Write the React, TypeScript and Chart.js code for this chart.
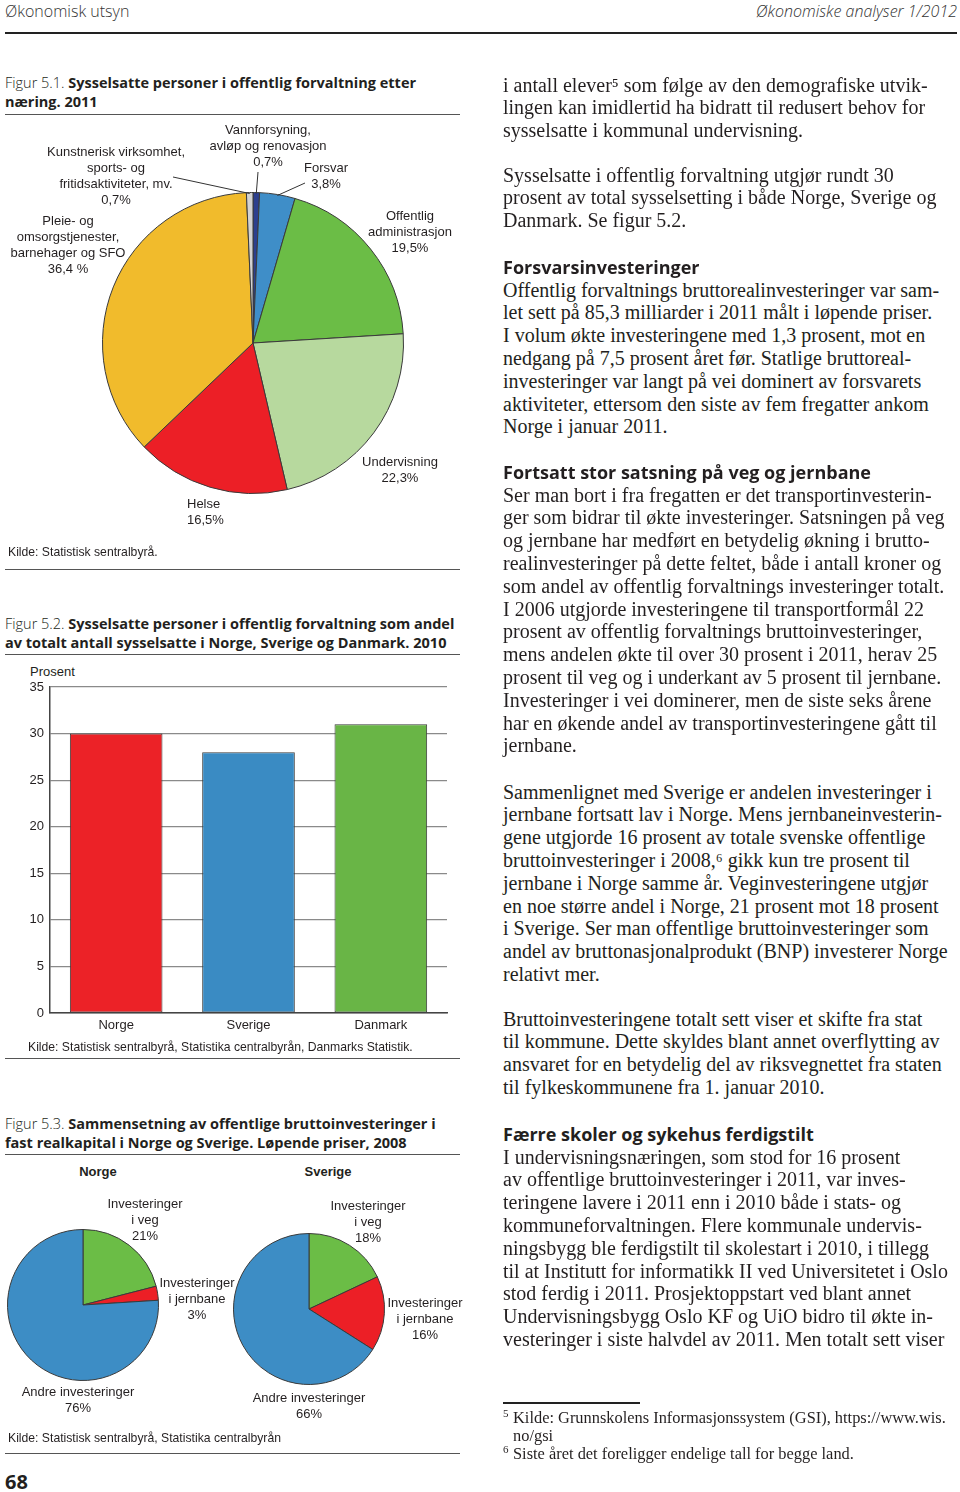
import React, { useEffect, useRef } from "react";
import { Chart, registerables } from "chart.js";

Chart.register(...registerables);

// ---------- DATA ----------
// Figur 5.1
const sectorNames = [
  "Vannforsyning, avløp og renovasjon",
  "Forsvar",
  "Offentlig administrasjon",
  "Undervisning",
  "Helse",
  "Pleie- og omsorgstjenester, barnehager og SFO",
  "Kunstnerisk virksomhet, sports- og fritidsaktiviteter, mv.",
];
const sectorShares = [0.7, 3.8, 19.5, 22.3, 16.5, 36.4, 0.7];
const sectorColors = ["#2c3f8e", "#3f8ec8", "#6bbd46", "#b7d99e", "#ec1f26", "#f1bb2c", "#d2d2d2"];

// Figur 5.2
const countries = ["Norge", "Sverige", "Danmark"];
const publicEmploymentShare = [30.0, 28.0, 31.0];
const countryColors = ["#ec2227", "#3a8bc3", "#69b546"];
const yMin = 0;
const yMax = 35;
const yStep = 5;

// Figur 5.3
const investCategories = ["Investeringer i veg", "Investeringer i jernbane", "Andre investeringer"];
const norwayInvest = [21, 3, 76];
const swedenInvest = [18, 16, 66];
const investColors = ["#6bbd46", "#ec1f26", "#3d8dc5"];

// ---------- FONTS ----------
const SANS = "'Liberation Sans', Arial, Helvetica, sans-serif";
const TITLE = "'Open Sans', 'Noto Sans', sans-serif";
const SERIF = "'Liberation Serif', 'Times New Roman', serif";
const INK = "#231f20";

const pct = (v: number, suffix = "%") => String(v).replace(".", ",") + suffix;

// ---------- TEXT ----------
const para1 = [
  "i antall elever\u2075 som følge av den demografiske utvik-",
  "lingen kan imidlertid ha bidratt til redusert behov for",
  "sysselsatte i kommunal undervisning.",
];
const para2 = [
  "Sysselsatte i offentlig forvaltning utgjør rundt 30",
  "prosent av total sysselsetting i både Norge, Sverige og",
  "Danmark. Se figur 5.2.",
];
const para3 = [
  "Offentlig forvaltnings bruttorealinvesteringer var sam-",
  "let sett på 85,3 milliarder i 2011 målt i løpende priser.",
  "I volum økte investeringene med 1,3 prosent, mot en",
  "nedgang på 7,5 prosent året før. Statlige bruttoreal-",
  "investeringer var langt på vei dominert av forsvarets",
  "aktiviteter, ettersom den siste av fem fregatter ankom",
  "Norge i januar 2011.",
];
const para4 = [
  "Ser man bort i fra fregatten er det transportinvesterin-",
  "ger som bidrar til økte investeringer. Satsningen på veg",
  "og jernbane har medført en betydelig økning i brutto-",
  "realinvesteringer på dette feltet, både i antall kroner og",
  "som andel av offentlig forvaltnings investeringer totalt.",
  "I 2006 utgjorde investeringene til transportformål 22",
  "prosent av offentlig forvaltnings bruttoinvesteringer,",
  "mens andelen økte til over 30 prosent i 2011, herav 25",
  "prosent til veg og i underkant av 5 prosent til jernbane.",
  "Investeringer i vei dominerer, men de siste seks årene",
  "har en økende andel av transportinvesteringene gått til",
  "jernbane.",
];
const para5 = [
  "Sammenlignet med Sverige er andelen investeringer i",
  "jernbane fortsatt lav i Norge. Mens jernbaneinvesterin-",
  "gene utgjorde 16 prosent av totale svenske offentlige",
  "bruttoinvesteringer i 2008,\u2076 gikk kun tre prosent til",
  "jernbane i Norge samme år. Veginvesteringene utgjør",
  "en noe større andel i Norge, 21 prosent mot 18 prosent",
  "i Sverige. Ser man offentlige bruttoinvesteringer som",
  "andel av bruttonasjonalprodukt (BNP) investerer Norge",
  "relativt mer.",
];
const para6 = [
  "Bruttoinvesteringene totalt sett viser et skifte fra stat",
  "til kommune. Dette skyldes blant annet overflytting av",
  "ansvaret for en betydelig del av riksvegnettet fra staten",
  "til fylkeskommunene fra 1. januar 2010.",
];
const para7 = [
  "I undervisningsnæringen, som stod for 16 prosent",
  "av offentlige bruttoinvesteringer i 2011, var inves-",
  "teringene lavere i 2011 enn i 2010 både i stats- og",
  "kommuneforvaltningen. Flere kommunale undervis-",
  "ningsbygg ble ferdigstilt til skolestart i 2010, i tillegg",
  "til at Institutt for informatikk II ved Universitetet i Oslo",
  "stod ferdig i 2011. Prosjektoppstart ved blant annet",
  "Undervisningsbygg Oslo KF og UiO bidro til økte in-",
  "vesteringer i siste halvdel av 2011. Men totalt sett viser",
];

// ---------- HELPERS ----------
type TxtProps = {
  x: number;
  y: number; // centre of first line
  lines: (string | React.ReactNode)[];
  size?: number;
  lh?: number;
  family?: string;
  weight?: number;
  align?: "left" | "center" | "right";
  color?: string;
  italic?: boolean;
};

function Txt({ x, y, lines, size = 13, lh = 16, family = SANS, weight = 400, align = "left", color = INK, italic }: TxtProps) {
  const style: React.CSSProperties = {
    position: "absolute",
    top: y - lh / 2,
    fontFamily: family,
    fontSize: size,
    lineHeight: lh + "px",
    fontWeight: weight,
    fontStyle: italic ? "italic" : "normal",
    color,
    whiteSpace: "nowrap",
    textAlign: align,
  };
  if (align === "left") style.left = x;
  else if (align === "center") {
    style.left = x - 200;
    style.width = 400;
  } else style.right = 960 - x;
  return (
    <div style={style}>
      {lines.map((l, i) => (
        <div key={i}>{l}</div>
      ))}
    </div>
  );
}

function Rule({ x1, x2, y, w = 1, color = "#555" }: { x1: number; x2: number; y: number; w?: number; color?: string }) {
  return <div style={{ position: "absolute", left: x1, top: y - w / 2, width: x2 - x1, height: w, background: color }} />;
}

function FigTitle({ y, num, line1, line2 }: { y: number; num: string; line1: string; line2: string }) {
  return (
    <Txt
      x={5}
      y={y}
      size={14.5}
      lh={19}
      family={TITLE}
      color={INK}
      lines={[
        <span>
          <span style={{ fontWeight: 300 }}>{num}</span>
          <span style={{ fontWeight: 700 }}>{line1}</span>
        </span>,
        <span style={{ fontWeight: 700 }}>{line2}</span>,
      ]}
    />
  );
}

const leaderPlugin = {
  id: "leaders",
  afterDatasetsDraw(chart: any, _args: any, opts: any) {
    const list = (opts && opts.lines) || [];
    const meta = chart.getDatasetMeta(0);
    const ctx = chart.ctx;
    ctx.save();
    ctx.strokeStyle = "#333";
    ctx.lineWidth = 1;
    list.forEach((l: any) => {
      const arc = meta.data[l.index];
      if (!arc) return;
      const p = arc.getProps(["x", "y", "startAngle", "endAngle", "outerRadius"], true);
      const a = (p.startAngle + p.endAngle) / 2;
      const r = p.outerRadius - 1;
      ctx.beginPath();
      ctx.moveTo(p.x + Math.cos(a) * r, p.y + Math.sin(a) * r);
      ctx.lineTo(l.x, l.y);
      ctx.stroke();
    });
    ctx.restore();
  },
};

type PieProps = {
  labels: string[];
  values: number[];
  colors: string[];
  left: number;
  top: number;
  width: number;
  height: number;
  padding: { left: number; top: number; right: number; bottom: number };
  leaders?: { index: number; x: number; y: number }[];
};

function Pie({ labels, values, colors, left, top, width, height, padding, leaders = [] }: PieProps) {
  const ref = useRef<HTMLCanvasElement>(null);
  useEffect(() => {
    if (!ref.current) return;
    const chart = new Chart(ref.current, {
      type: "pie",
      data: {
        labels,
        datasets: [
          {
            data: values,
            backgroundColor: colors,
            borderColor: "#3a3a3a",
            borderWidth: 1,
          },
        ],
      },
      options: {
        responsive: false,
        animation: false,
        events: [],
        layout: { padding },
        plugins: {
          legend: { display: false },
          tooltip: { enabled: false },
          // @ts-ignore
          leaders: { lines: leaders.map((l) => ({ index: l.index, x: l.x - left, y: l.y - top })) },
        },
      } as any,
      plugins: [leaderPlugin as any],
    });
    return () => chart.destroy();
  }, []);
  return (
    <canvas
      ref={ref}
      width={width}
      height={height}
      style={{ position: "absolute", left, top, width, height }}
    />
  );
}

function BarChart() {
  const ref = useRef<HTMLCanvasElement>(null);
  useEffect(() => {
    if (!ref.current) return;
    const chart = new Chart(ref.current, {
      type: "bar",
      data: {
        labels: countries,
        datasets: [
          {
            data: publicEmploymentShare,
            backgroundColor: countryColors,
            borderColor: "#3a3a3a",
            borderWidth: 1,
            borderSkipped: false,
            barPercentage: 0.7,
            categoryPercentage: 1.0,
          },
        ],
      },
      options: {
        responsive: false,
        animation: false,
        events: [],
        layout: { padding: { top: 27, right: 13, left: 0, bottom: 0 } },
        plugins: { legend: { display: false }, tooltip: { enabled: false } },
        scales: {
          x: {
            grid: { display: false, drawTicks: false },
            border: { display: true, color: "#444", width: 1.5 },
            ticks: { color: INK, font: { family: SANS, size: 13 }, padding: 5 },
            afterFit: (s: any) => {
              s.height = 27;
            },
          },
          y: {
            min: yMin,
            max: yMax,
            ticks: { stepSize: yStep, color: INK, font: { family: SANS, size: 13 }, padding: 6 },
            grid: { color: "#8a8a8a", lineWidth: 1.2, drawTicks: false },
            border: { display: true, color: "#444", width: 1.5 },
            afterFit: (s: any) => {
              s.width = 50;
            },
          },
        },
      } as any,
    });
    return () => chart.destroy();
  }, []);
  return <canvas ref={ref} width={460} height={380} style={{ position: "absolute", left: 0, top: 660, width: 460, height: 380 }} />;
}

function Para({ y, lines }: { y: number; lines: string[] }) {
  return <Txt x={503} y={y} lines={lines} size={20} lh={22.8} family={SERIF} color={INK} />;
}

function Heading({ y, text }: { y: number; text: string }) {
  return <Txt x={503} y={y} lines={[text]} size={18} lh={22} family={TITLE} weight={700} color={INK} />;
}

export default function App() {
  useEffect(() => {
    document.body.style.margin = "0";
  }, []);

  return (
    <div style={{ position: "absolute", left: 0, top: 0, width: 960, height: 1492, background: "#fff", overflow: "hidden" }}>
      {/* header */}
      <Txt x={5} y={11} lines={["Økonomisk utsyn"]} size={16} lh={20} family={TITLE} weight={300} color="#333" />
      <Txt x={957} y={11} lines={["Økonomiske analyser 1/2012"]} size={16} lh={20} family={TITLE} weight={300} italic align="right" color="#333" />
      <Rule x1={5} x2={957} y={33} w={2} color="#222" />

      {/* Figur 5.1 */}
      <FigTitle y={82} num="Figur 5.1. " line1="Sysselsatte personer i offentlig forvaltning etter" line2="næring. 2011" />
      <Rule x1={5} x2={460} y={114} />
      <Pie
        labels={sectorNames}
        values={sectorShares}
        colors={sectorColors}
        left={5}
        top={115}
        width={455}
        height={450}
        padding={{ left: 97, top: 77, right: 56, bottom: 71 }}
        leaders={[
          { index: 6, x: 173, y: 177 },
          { index: 0, x: 258, y: 172 },
          { index: 1, x: 305, y: 183 },
        ]}
      />
      <Txt x={116} y={152} align="center" lines={["Kunstnerisk virksomhet,", "sports- og", "fritidsaktiviteter, mv.", pct(sectorShares[6])]} />
      <Txt x={268} y={130} align="center" lines={["Vannforsyning,", "avløp og renovasjon", pct(sectorShares[0])]} />
      <Txt x={326} y={168} align="center" lines={["Forsvar", pct(sectorShares[1])]} />
      <Txt x={410} y={216} align="center" lines={["Offentlig", "administrasjon", pct(sectorShares[2])]} />
      <Txt x={68} y={221} align="center" lines={["Pleie- og", "omsorgstjenester,", "barnehager og SFO", pct(sectorShares[5], " %")]} />
      <Txt x={400} y={462} align="center" lines={["Undervisning", pct(sectorShares[3])]} />
      <Txt x={187} y={504} lines={["Helse", pct(sectorShares[4])]} />
      <Txt x={8} y={552} size={12.2} lines={["Kilde: Statistisk sentralbyrå."]} />
      <Rule x1={5} x2={460} y={569} />

      {/* Figur 5.2 */}
      <FigTitle
        y={623}
        num="Figur 5.2. "
        line1="Sysselsatte personer i offentlig forvaltning som andel"
        line2="av totalt antall sysselsatte i Norge, Sverige og Danmark. 2010"
      />
      <Rule x1={5} x2={460} y={654} />
      <Txt x={30} y={672} lines={["Prosent"]} />
      <BarChart />
      <Txt x={28} y={1047} size={12.2} lines={["Kilde: Statistisk sentralbyrå, Statistika centralbyrån, Danmarks Statistik."]} />
      <Rule x1={5} x2={460} y={1058} />

      {/* Figur 5.3 */}
      <FigTitle
        y={1123}
        num="Figur 5.3.  "
        line1="Sammensetning av offentlige bruttoinvesteringer i"
        line2="fast realkapital i Norge og Sverige. Løpende priser, 2008"
      />
      <Rule x1={5} x2={460} y={1154} />
      <Txt x={98} y={1172} align="center" weight={700} lines={["Norge"]} />
      <Txt x={328} y={1172} align="center" weight={700} lines={["Sverige"]} />
      <Pie
        labels={investCategories}
        values={norwayInvest}
        colors={investColors}
        left={5}
        top={1227}
        width={156}
        height={156}
        padding={{ left: 2, top: 2, right: 2, bottom: 2 }}
      />
      <Pie
        labels={investCategories}
        values={swedenInvest}
        colors={investColors}
        left={231}
        top={1231}
        width={156}
        height={156}
        padding={{ left: 2, top: 2, right: 2, bottom: 2 }}
      />
      <Txt x={145} y={1204} align="center" lines={["Investeringer", "i veg", pct(norwayInvest[0])]} />
      <Txt x={197} y={1283} align="center" lines={["Investeringer", "i jernbane", pct(norwayInvest[1])]} />
      <Txt x={78} y={1392} align="center" lines={["Andre investeringer", pct(norwayInvest[2])]} />
      <Txt x={368} y={1206} align="center" lines={["Investeringer", "i veg", pct(swedenInvest[0])]} />
      <Txt x={425} y={1303} align="center" lines={["Investeringer", "i jernbane", pct(swedenInvest[1])]} />
      <Txt x={309} y={1398} align="center" lines={["Andre investeringer", pct(swedenInvest[2])]} />
      <Txt x={8} y={1438} size={12.2} lines={["Kilde: Statistisk sentralbyrå, Statistika centralbyrån"]} />
      <Rule x1={5} x2={460} y={1453} />

      <Txt x={5} y={1482} size={20} lh={24} family={TITLE} weight={700} lines={["68"]} />

      {/* right column */}
      <Para y={85} lines={para1} />
      <Para y={175} lines={para2} />
      <Heading y={267} text="Forsvarsinvesteringer" />
      <Para y={290} lines={para3} />
      <Heading y={472} text="Fortsatt stor satsning på veg og jernbane" />
      <Para y={495} lines={para4} />
      <Para y={792} lines={para5} />
      <Para y={1019} lines={para6} />
      <Heading y={1134} text="Færre skoler og sykehus ferdigstilt" />
      <Para y={1157} lines={para7} />

      <Rule x1={503} x2={640} y={1403} w={2} color="#222" />
      <Txt x={503} y={1413} size={11} lh={14} family={SERIF} lines={["5"]} />
      <Txt x={513} y={1418} size={16.4} lh={18} family={SERIF} lines={["Kilde: Grunnskolens Informasjonssystem (GSI), https://www.wis.", "no/gsi"]} />
      <Txt x={503} y={1449} size={11} lh={14} family={SERIF} lines={["6"]} />
      <Txt x={513} y={1454} size={16.4} lh={18} family={SERIF} lines={["Siste året det foreligger endelige tall for begge land."]} />
    </div>
  );
}
